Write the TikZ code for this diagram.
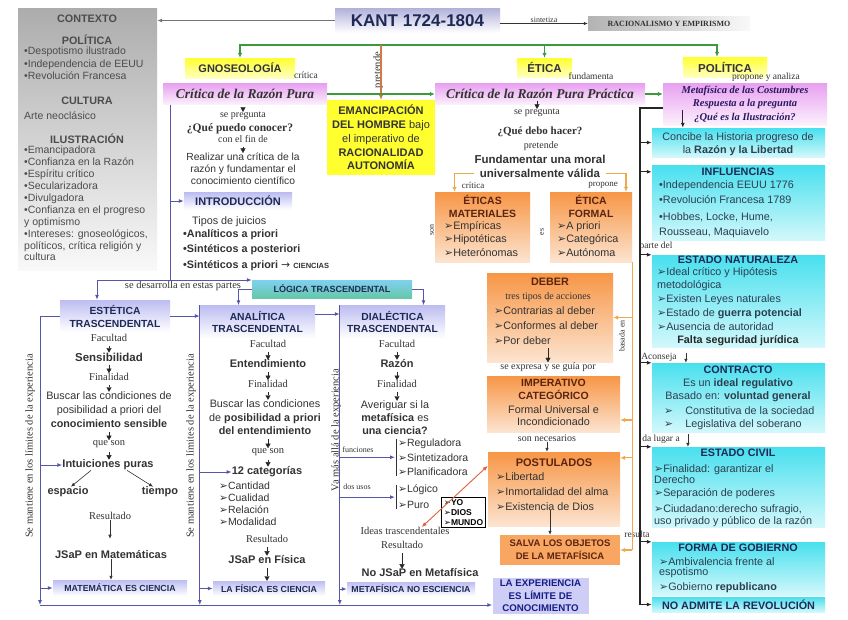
\documentclass[tikz,border=0pt]{standalone}
\usepackage{fontspec}
\setmainfont{Liberation Sans}
\newfontfamily\tnr{Liberation Serif}
\newfontfamily\djv{DejaVu Sans}
\usetikzlibrary{arrows.meta, positioning}
\definecolor{kline}{HTML}{5656A8}
\definecolor{kgreen}{HTML}{3C9A3C}
\definecolor{korange}{HTML}{F0A848}
\definecolor{kpret}{HTML}{D07848}
\definecolor{kred}{HTML}{E0603C}
\definecolor{kyellow}{HTML}{FFFF30}
\definecolor{kpink}{HTML}{E8A0F0}
\definecolor{klav}{HTML}{BDBDF2}
\definecolor{korg}{HTML}{F79646}
\definecolor{korgl}{HTML}{FCE4D0}
\definecolor{kcyan}{HTML}{48E0EE}
\definecolor{kcyanl}{HTML}{D2F8FB}
\definecolor{kteala}{HTML}{80D0F0}
\definecolor{ktealb}{HTML}{66C8A8}
\definecolor{kbrown}{HTML}{5A2410}
\definecolor{knavy}{HTML}{1E2A55}
\definecolor{kindigo}{HTML}{2A1860}
\definecolor{kslate}{HTML}{2C3E50}
\definecolor{ktext}{HTML}{333333}
\newcommand{\flecha}{{\djv\mdseries\char"27A2}}
\tikzset{
  ybox/.style={top color=kyellow, bottom color=kyellow!30, inner sep=0pt},
  pkbox/.style={top color=kpink, bottom color=kpink!15, inner sep=0pt},
  lvbox/.style={top color=klav, bottom color=white, inner sep=0pt},
  obox/.style={top color=korg, bottom color=korgl, inner sep=0pt},
  cbox/.style={top color=kcyan, bottom color=kcyanl, inner sep=0pt},
  gtxt/.style={inner sep=0pt, align=center, text=ktext, font=\fontsize{10.8}{12}\selectfont},
  btxt/.style={gtxt, font=\bfseries\fontsize{10.8}{12}\selectfont},
  ltxt/.style={gtxt, align=left, anchor=north west},
  stxt/.style={inner sep=0pt, text=ktext, font=\tnr\fontsize{10.5}{11}\selectfont},
  tlbl/.style={inner sep=0pt, text=ktext, font=\tnr\fontsize{8}{9}\selectfont},
  qtxt/.style={inner sep=0pt, text=ktext, font=\tnr\bfseries\fontsize{11}{12}\selectfont},
  otit/.style={btxt, text=kbrown},
  ctit/.style={btxt, text=knavy},
  bln/.style={kline, line width=1pt},
  barr/.style={bln, -{Latex[length=5pt,width=4pt]}},
  garr/.style={kgreen, line width=1.3pt, -{Latex[length=5pt,width=4.5pt]}},
  oarr/.style={korange, line width=1.2pt, -{Latex[length=5pt,width=4.5pt]}},
  rarr/.style={kred, line width=0.9pt, {Latex[length=5pt,width=4pt]}-{Latex[length=5pt,width=4pt]}},
  kln/.style={black!85, line width=1.1pt},
  karr/.style={kln, -{Latex[length=5pt,width=4pt]}},
  tarr/.style={black!80, line width=0.6pt, -{Latex[length=4pt,width=3.5pt]}},
  tri/.style={black!85, line width=0.4pt, shorten <=4pt, -{Triangle[length=4.5pt,width=5pt]}},
}
\begin{document}
\begin{tikzpicture}[x=1pt, y=-1pt]
\useasboundingbox (0,0) rectangle (848,619);
\fill[white] (0,0) rectangle (848,619);

% contexto
\node[top color=gray!65, bottom color=gray!5, inner sep=0pt, minimum width=139pt, minimum height=262pt] (ctx) at (87.5,139) {};
\node[btxt, text=black!70] (ctxt) at (87,19) {CONTEXTO};
\node[btxt, text=black!70] (cpol) at (87,40) {POLÍTICA};
\node[ltxt, text=black!70, font=\fontsize{10.5}{12.4}\selectfont] (cpoll) at (24,47) {•Despotismo ilustrado\\•Independencia de EEUU\\•Revolución Francesa};
\node[btxt, text=black!70] (ccul) at (87,101) {CULTURA};
\node[gtxt, text=black!70, anchor=west, font=\fontsize{10.5}{12}\selectfont] (cart) at (24,116) {Arte neoclásico};
\node[btxt, text=black!70] (cilu) at (87,139) {ILUSTRACIÓN};
\node[ltxt, text=black!70, font=\fontsize{10.5}{11.9}\selectfont] (cilul) at (24,146) {•Emancipadora\\•Confianza en la Razón\\•Espíritu crítico\\•Secularizadora\\•Divulgadora\\•Confianza en el progreso\\y optimismo\\•Intereses: gnoseológicos,\\políticos, crítica religión y\\cultura};

% kant
\node[top color=klav!80!gray, bottom color=white, inner sep=0pt, minimum width=165pt, minimum height=25pt, font=\bfseries\fontsize{17}{18}\selectfont, text=knavy] (kant) at (417.5,20.5) {KANT 1724-1804};
\node[left color=gray!60, right color=gray!5, inner sep=0pt, minimum width=162pt, minimum height=14pt, font=\tnr\bfseries\fontsize{8}{9}\selectfont, text=black!80] (raci) at (669,23.5) {RACIONALISMO Y EMPIRISMO};
\coordinate (bus) at (417,45);

% gnoseologia
\node[ybox, btxt, minimum width=110pt, minimum height=20pt, font=\bfseries\fontsize{11}{12}\selectfont] (gnos) at (240,68) {GNOSEOLOGÍA};
\node[tlbl, font=\tnr\fontsize{9.5}{10}\selectfont] (lcrit) at (306,75) {crítica};
\node[pkbox, minimum width=164pt, minimum height=21pt, font=\tnr\bfseries\itshape\fontsize{13.5}{14}\selectfont, text=ktext] (crp) at (245,94) {Crítica de la Razón Pura};
\node[fill=kyellow, btxt, minimum width=108pt, minimum height=75pt, font=\bfseries\fontsize{11}{13.8}\selectfont] (emanc) at (381,137.5) {EMANCIPACIÓN\\DEL HOMBRE {\mdseries bajo}\\{\mdseries el imperativo de}\\RACIONALIDAD\\AUTONOMÍA};
\node[stxt, rotate=90] (lpret) at (378,70) {pretende};
\node[stxt, font=\tnr\fontsize{10}{11}\selectfont] (sp1) at (243,116) {se pregunta};
\node[qtxt, font=\tnr\bfseries\fontsize{11.5}{12}\selectfont] (q1) at (240,129) {¿Qué puedo conocer?};
\node[stxt, font=\tnr\fontsize{10}{11}\selectfont] (cfin) at (243,139) {con el fin de};
\node[gtxt, font=\fontsize{10.3}{12}\selectfont] (real1) at (243,169) {Realizar una crítica de la\\razón y fundamentar el\\conocimiento científico};
\node[lvbox, ctit, minimum width=108pt, minimum height=17pt, font=\bfseries\fontsize{11}{12}\selectfont] (intro) at (238,201) {INTRODUCCIÓN};
\node[gtxt, anchor=west] (tipos) at (192,222) {Tipos de juicios};
\node[btxt, align=left, anchor=north west, font=\bfseries\fontsize{10.8}{15.5}\selectfont] (juic) at (183,229) {•Analíticos a priori\\•Sintéticos a posteriori\\•Sintéticos a priori {\mdseries\djv →} {\fontsize{7.5}{8}\selectfont CIENCIAS}};
\node[stxt] (ldes) at (183,285.5) {se desarrolla en estas partes};
\node[top color=kteala, bottom color=ktealb, inner sep=0pt, minimum width=160pt, minimum height=18pt, font=\bfseries\fontsize{9}{10}\selectfont, text=knavy] (logica) at (332,289) {LÓGICA TRASCENDENTAL};

% columnas trascendentales
\node[lvbox, ctit, minimum width=110pt, minimum height=32pt, font=\bfseries\fontsize{10.3}{13}\selectfont] (estet) at (115,316) {ESTÉTICA\\TRASCENDENTAL};
\node[lvbox, ctit, minimum width=115pt, minimum height=33pt, font=\bfseries\fontsize{10.3}{12}\selectfont] (anal) at (257.5,322) {ANALÍTICA\\TRASCENDENTAL};
\node[lvbox, ctit, minimum width=105pt, minimum height=33pt, font=\bfseries\fontsize{10.3}{12}\selectfont] (dial) at (392.5,322) {DIALÉCTICA\\TRASCENDENTAL};
\node[stxt, rotate=90] (lsm1) at (30,446) {Se mantiene en los límites de la experiencia};
\node[stxt, rotate=90] (lsm2) at (191,446) {Se mantiene en los límites de la experiencia};
\node[stxt, rotate=90] (lva) at (336,430) {Va más allá de la experiencia};

% estetica
\node[stxt] (fac1) at (109,338) {Facultad};
\node[btxt, font=\bfseries\fontsize{11.5}{12}\selectfont] (sens) at (109,357) {Sensibilidad};
\node[stxt] (fnl1) at (109,377) {Finalidad};
\node[gtxt, font=\fontsize{10.8}{14}\selectfont] (busc1) at (109,410) {Buscar las condiciones de\\posibilidad a priori del\\\textbf{conocimiento sensible}};
\node[stxt] (qs1) at (109,444) {que son};
\node[btxt, font=\bfseries\fontsize{11}{12}\selectfont] (intu) at (108,465) {Intuiciones puras};
\node[btxt, font=\bfseries\fontsize{11}{12}\selectfont] (esp) at (68,492) {espacio};
\node[btxt, font=\bfseries\fontsize{11}{12}\selectfont] (tie) at (160,492) {tiempo};
\node[stxt] (res1) at (110,516) {Resultado};
\node[btxt, font=\bfseries\fontsize{11}{12}\selectfont] (jsap1) at (111,555) {JSaP en Matemáticas};
\node[lvbox, ctit, minimum width=134pt, minimum height=16pt, font=\bfseries\fontsize{8.8}{9}\selectfont] (mate) at (120,588) {MATEMÁTICA ES CIENCIA};

% analitica
\node[stxt] (fac2) at (268,344) {Facultad};
\node[btxt, font=\bfseries\fontsize{11}{12}\selectfont] (ent) at (268,364) {Entendimiento};
\node[stxt] (fnl2) at (268,384) {Finalidad};
\node[gtxt, font=\fontsize{10.8}{13.5}\selectfont] (busc2) at (265,417.5) {Buscar las condiciones\\de \textbf{posibilidad a priori}\\\textbf{del entendimiento}};
\node[stxt] (qs2) at (268,452) {que son};
\node[btxt, font=\bfseries\fontsize{11}{12}\selectfont] (cat) at (267,472) {12 categorías};
\node[ltxt, font=\fontsize{10.5}{11.8}\selectfont] (catl) at (219,482) {\flecha Cantidad\\\flecha Cualidad\\\flecha Relación\\\flecha Modalidad};
\node[stxt] (res2) at (267,539) {Resultado};
\node[btxt, font=\bfseries\fontsize{11}{12}\selectfont] (jsap2) at (267,560) {JSaP en Física};
\node[lvbox, ctit, minimum width=112pt, minimum height=15pt, font=\bfseries\fontsize{8.8}{9}\selectfont] (fisica) at (269,588.5) {LA FÍSICA ES CIENCIA};

% dialectica
\node[stxt] (fac3) at (397,344) {Facultad};
\node[btxt, font=\bfseries\fontsize{11}{12}\selectfont] (razon) at (397,364) {Razón};
\node[stxt] (fnl3) at (397,384) {Finalidad};
\node[gtxt, font=\fontsize{10.8}{13}\selectfont] (aver) at (395,418) {Averiguar si la\\\textbf{metafísica} es\\\textbf{una ciencia?}};
\node[tlbl] (lfun) at (358,450) {funciones};
\node[ltxt, font=\fontsize{10.5}{14.2}\selectfont] (fun) at (398,439) {\flecha Reguladora\\\flecha Sintetizadora\\\flecha Planificadora};
\node[tlbl] (luso) at (357,487) {dos usos};
\node[ltxt, font=\fontsize{10.5}{16}\selectfont] (uso) at (398,485) {\flecha Lógico\\\flecha Puro};
\node[draw=black, line width=0.8pt, fill=white, inner sep=2pt, align=left, text=black, font=\bfseries\fontsize{8.5}{10}\selectfont] (ydm) at (463.5,512.5) {\flecha YO\\\flecha DIOS\\\flecha MUNDO};
\node[stxt] (ideas) at (405,531) {Ideas trascendentales};
\node[stxt] (res3) at (402,545) {Resultado};
\node[btxt, font=\bfseries\fontsize{11}{12}\selectfont] (nojsap) at (420,573) {No JSaP en Metafísica};
\node[lvbox, ctit, minimum width=128pt, minimum height=14pt, font=\bfseries\fontsize{8.8}{9}\selectfont] (metaf) at (411,589) {METAFÍSICA NO ESCIENCIA};
\node[fill=klav!75, ctit, minimum width=96pt, minimum height=36pt, font=\bfseries\fontsize{9.7}{12.5}\selectfont, text=knavy!70!blue] (exper) at (540.5,596) {LA EXPERIENCIA\\ES LÍMITE DE\\CONOCIMIENTO};

% etica
\node[ybox, btxt, minimum width=55pt, minimum height=19pt, font=\bfseries\fontsize{11.5}{12}\selectfont] (etica) at (544.5,67.5) {ÉTICA};
\node[tlbl, font=\tnr\fontsize{9.5}{10}\selectfont] (lfund) at (591,76) {fundamenta};
\node[pkbox, minimum width=210pt, minimum height=21pt, font=\tnr\bfseries\itshape\fontsize{13.5}{14}\selectfont, text=ktext] (crpp) at (540,94) {Crítica de la Razón Pura Práctica};
\node[stxt, font=\tnr\fontsize{10}{11}\selectfont] (sp2) at (537,113) {se pregunta};
\node[qtxt] (q2) at (540,132) {¿Qué debo hacer?};
\node[stxt, font=\tnr\fontsize{10}{11}\selectfont] (pret2) at (541,146) {pretende};
\node[btxt, font=\bfseries\fontsize{11.5}{14}\selectfont] (fund) at (540,166) {Fundamentar una moral\\universalmente válida};
\node[tlbl, font=\tnr\fontsize{9}{10}\selectfont] (lcri2) at (473,185) {crítica};
\node[tlbl, font=\tnr\fontsize{9}{10}\selectfont] (lprop) at (603,185) {propone};
\node[obox, minimum width=95pt, minimum height=70pt] (emat) at (482.5,227) {};
\node[otit, font=\bfseries\fontsize{10.5}{12.5}\selectfont] (ematt) at (482.5,206.5) {ÉTICAS\\MATERIALES};
\node[ltxt, font=\fontsize{10.8}{13.5}\selectfont] (ematl) at (444,221) {\flecha Empíricas\\\flecha Hipotéticas\\\flecha Heterónomas};
\node[tlbl, rotate=90] (lson) at (432,230) {son};
\node[tlbl, rotate=90] (les) at (542,232) {es};
\node[obox, minimum width=82pt, minimum height=70pt] (eform) at (591,227) {};
\node[otit, font=\bfseries\fontsize{10.5}{12.5}\selectfont] (eformt) at (591,206.5) {ÉTICA\\FORMAL};
\node[ltxt, font=\fontsize{10.8}{13.5}\selectfont] (eforml) at (557,221) {\flecha A priori\\\flecha Categórica\\\flecha Autónoma};
\node[obox, minimum width=126pt, minimum height=89pt] (deber) at (550,317.5) {};
\node[otit] (debert) at (550,282) {DEBER};
\node[stxt, font=\tnr\fontsize{10}{11}\selectfont] (ltres) at (548,297) {tres tipos de acciones};
\node[ltxt, font=\fontsize{10.8}{15}\selectfont] (deberl) at (494,306) {\flecha Contrarias al deber\\\flecha Conformes al deber\\\flecha Por deber};
\node[stxt, font=\tnr\fontsize{10}{11}\selectfont] (sexp) at (548,367) {se expresa y se guía por};
\node[obox, minimum width=133pt, minimum height=56pt] (imper) at (553.5,404) {};
\node[otit, font=\bfseries\fontsize{10.5}{12.5}\selectfont] (impert) at (553.5,389.5) {IMPERATIVO\\CATEGÓRICO};
\node[gtxt, font=\fontsize{10.8}{12.5}\selectfont] (imperl) at (553.5,415.5) {Formal Universal e\\Incondicionado};
\node[stxt, font=\tnr\fontsize{10}{11}\selectfont] (sonnec) at (547,438) {son necesarios};
\node[obox, minimum width=132pt, minimum height=74pt] (postu) at (554,489) {};
\node[otit, font=\bfseries\fontsize{11}{12}\selectfont] (postut) at (554,463) {POSTULADOS};
\node[ltxt, font=\fontsize{10.8}{15}\selectfont] (postl) at (496,472) {\flecha Libertad\\\flecha Inmortalidad del alma\\\flecha Existencia de Dios};
\node[fill=korg!85, otit, minimum width=120pt, minimum height=30pt, font=\bfseries\fontsize{9.5}{13}\selectfont] (salva) at (560,550) {SALVA LOS OBJETOS\\DE LA METAFÍSICA};
\node[tlbl, rotate=90] (lbas) at (622,336) {basada en};

% politica
\node[ybox, btxt, minimum width=84pt, minimum height=20pt, font=\bfseries\fontsize{11.5}{12}\selectfont] (polit) at (725,67) {POLÍTICA};
\node[tlbl, font=\tnr\fontsize{9.5}{10}\selectfont] (lpya) at (766,77) {propone y analiza};
\node[pkbox, minimum width=164pt, minimum height=42pt, align=center, font=\tnr\bfseries\itshape\fontsize{10.5}{13.5}\selectfont, text=kindigo] (meta) at (745,104) {Metafísica de las Costumbres\\Respuesta a la pregunta\\¿Qué es la Ilustración?};
\node[cbox, minimum width=173pt, minimum height=29pt] (conci) at (738.5,142.5) {};
\node[gtxt, text=kslate, font=\fontsize{10.8}{13}\selectfont] (concit) at (738,144.5) {Concibe la Historia progreso de\\la \textbf{Razón y la Libertad}};
\node[cbox, minimum width=173pt, minimum height=75pt] (influ) at (738.5,202.5) {};
\node[ctit] (influt) at (738,172) {INFLUENCIAS};
\node[ltxt, text=kslate, font=\fontsize{10.8}{15}\selectfont] (influl) at (659,180) {•Independencia EEUU 1776\\•Revolución Francesa 1789\\[2pt]•Hobbes, Locke, Hume,\\Rousseau, Maquiavelo};
\node[tlbl, font=\tnr\fontsize{9.5}{10}\selectfont] (lparte) at (656,246) {parte del};
\node[cbox, minimum width=173pt, minimum height=92pt] (enat) at (738.5,301) {};
\node[ctit] (enatt) at (738,260) {ESTADO NATURALEZA};
\node[ltxt, text=kslate, font=\fontsize{10.8}{13.8}\selectfont] (enatl) at (657,267) {\flecha Ideal crítico y Hipótesis\\metodológica\\\flecha Existen Leyes naturales\\\flecha Estado de \textbf{guerra potencial}\\\flecha Ausencia de autoridad};
\node[btxt, text=black!85] (falta) at (738,341) {Falta seguridad jurídica};
\node[tlbl, font=\tnr\fontsize{9.5}{10}\selectfont] (lacon) at (659,357) {Aconseja};
\node[cbox, minimum width=173pt, minimum height=69pt] (contr) at (738.5,397.5) {};
\node[ctit] (contrt) at (738,370) {CONTRACTO};
\node[gtxt, text=kslate] (contr1) at (738,384) {Es un \textbf{ideal regulativo}};
\node[gtxt, text=kslate] (contr2) at (738,397) {Basado en: \textbf{voluntad general}};
\node[gtxt, text=kslate, anchor=west] (contr3) at (664,411) {\flecha\hspace{12pt}Constitutiva de la sociedad};
\node[gtxt, text=kslate, anchor=west] (contr4) at (664,425) {\flecha\hspace{12pt}Legislativa del soberano};
\node[tlbl, font=\tnr\fontsize{9.5}{10}\selectfont] (lda) at (661,439) {da lugar a};
\node[cbox, minimum width=173pt, minimum height=80pt] (ecivil) at (738.5,487) {};
\node[ctit] (ecivilt) at (738,453) {ESTADO CIVIL};
\node[ltxt, text=kslate, font=\fontsize{10.8}{9.8}\selectfont] (ecivill) at (654,464) {\flecha Finalidad: garantizar el\\Derecho\\[4pt]\flecha Separación de poderes\\[5pt]\flecha Ciudadano:derecho sufragio,\\uso privado y público de la razón};
\node[tlbl, font=\tnr\fontsize{9.5}{10}\selectfont] (lres) at (637,534) {resulta};
\node[cbox, minimum width=173pt, minimum height=53pt] (fgob) at (738.5,568.5) {};
\node[ctit] (fgobt) at (738,548) {FORMA DE GOBIERNO};
\node[ltxt, text=kslate, font=\fontsize{10.8}{10}\selectfont] (fgobl) at (659,557) {\flecha Ambivalencia frente al\\espotismo\\[4pt]\flecha Gobierno \textbf{republicano}};
\node[cbox, ctit, minimum width=173pt, minimum height=15pt] (noadm) at (738.5,604.5) {NO ADMITE LA REVOLUCIÓN};

% conectores principales
\draw[karr, black!55] (kant.west) -- (kant.west -| ctx.east);
\draw[tarr] (kant.east |- raci.west) -- (raci.west) node[midway, above=1pt, tlbl] (lsint) {sintetiza};
\draw[garr] (bus) -| (gnos.north);
\draw[garr] (bus) -| ([xshift=-8pt]polit.north);
\draw[garr] (bus -| etica.north) -- (etica.north);
\draw[kpret, line width=1.8pt, -{Latex[length=5pt,width=4.5pt]}] (bus -| emanc.north) -- (emanc.north);
\draw[garr] (crp.east) -- (crp.east -| crpp.west);
\draw[garr] (crpp.east) -- (crpp.east -| meta.west);

% gnoseologia
\coordinate (lft) at (170,280);
\draw[tri] (crp.south -| sp1) -- (sp1.north);
\draw[tri] (cfin.south) -- (real1.north);
\draw[bln] (crp.south -| lft) -- (lft);
\draw[barr] (intro.west -| lft) -- (intro.west);
\draw[barr] (lft) -- (lft -| logica.west);
\draw[barr] (lft) -| ([xshift=-18pt]estet.north);
\draw[barr] (logica.west) -| ([xshift=-19pt]anal.north);
\draw[barr] (logica.east) -| ([xshift=31pt]dial.north);
\draw[barr] (estet.east) -- (estet.east -| anal.west);
\coordinate (ae) at ([yshift=8pt]anal.east);
\draw[barr] (ae) -- (ae -| dial.west);
\coordinate (bot) at (40,605);
\draw[barr] (estet.west) -| (bot);
\draw[barr] (anal.north west) -- (anal.north west |- bot);
\draw[barr] (dial.north west) -- (dial.north west |- bot);
\draw[barr] (bot) -- (bot -| exper.west);

% estetica
\draw[tri] (fac1.south) -- (sens.north);
\draw[tri] (sens.south) -- (fnl1.north);
\draw[tri] (fnl1.south) -- (busc1.north);
\draw[tri] (busc1.south) -- (qs1.north);
\draw[tri] (qs1.south) -- (qs1.south |- intu.north);
\draw[tarr] ([xshift=-17pt]intu.south) -- ([xshift=3pt]esp.north);
\draw[tarr] ([xshift=19pt]intu.south) -- ([xshift=-7pt]tie.north);
\draw[tarr, shorten >=12pt] (res1.south) -- (res1.south |- jsap1.north);
\draw[tarr] (jsap1.south) -- (jsap1.south |- mate.north);
\draw[barr] (intu.west -| bot) -- (intu.west);
\draw[barr] (mate.west -| bot) -- (mate.west);

% analitica
\draw[tri] (fac2.south) -- (ent.north);
\draw[tri] (ent.south) -- (fnl2.north);
\draw[tri] (fnl2.south) -- (fnl2.south |- busc2.north);
\draw[tri] (busc2.south -| qs2) -- (qs2.north);
\draw[tri] (qs2.south) -- (qs2.south |- cat.north);
\draw[tri] (res2.south) -- (jsap2.north);
\draw[tri] (jsap2.south) -- (jsap2.south |- fisica.north);
\draw[barr] (cat.west -| anal.west) -- (cat.west);
\draw[barr] (fisica.west -| anal.west) -- (fisica.west);

% dialectica
\draw[tri] (fac3.south) -- (razon.north);
\draw[tri] (razon.south) -- (fnl3.north);
\draw[tri] (fnl3.south) -- (fnl3.south |- aver.north);
\draw[tri] (res3.south) -- (res3.south |- nojsap.north);
\draw[black!80, line width=0.6pt] ([xshift=-1.5pt]fun.north west) -- ([xshift=-1.5pt]fun.south west);
\draw[black!80, line width=0.6pt] ([xshift=-1.5pt]uso.north west) -- ([xshift=-1.5pt]uso.south west);
\draw[barr] (fun.west -| dial.west) -- ([xshift=-3pt]fun.west);
\draw[barr] (uso.west -| dial.west) -- ([xshift=-3pt]uso.west);
\draw[barr] (metaf.west -| dial.west) -- (metaf.west);
\coordinate (pw) at ([yshift=-14pt]postu.north west);
\coordinate (iw) at ([xshift=-28pt]ideas.north east);
\draw[rarr] (iw) -- (pw);

% etica
\draw[tri] (crpp.south -| sp2) -- (sp2.north);
\coordinate (fl) at ([yshift=4pt]fund.south west);
\coordinate (fr) at ([yshift=4pt]fund.south east);
\draw[oarr] (fl) -| ([xshift=-28pt]emat.north);
\draw[oarr] (fr) -| ([xshift=35pt]eform.north);
\draw[tri] (deberl.south -| sexp) -- (sexp.north);
\draw[tarr] (sonnec.south) -- (sonnec.south |- postu.north);
\coordinate (sa) at ([xshift=-10pt]salva.north);
\draw[tarr] (sa |- postl.south) -- (sa);
\draw[korange, line width=1.2pt] (eform.south east) -- (eform.south east |- salva.east);
\draw[oarr] (deber.east -| eform.east) -- (deber.east);
\coordinate (ie) at ([yshift=-16pt]imper.east);
\draw[oarr] (ie -| eform.east) -- (ie);
\coordinate (pe) at ([yshift=-6pt]postu.north east);
\draw[oarr] (pe -| eform.east) -- (pe);
\draw[oarr] (salva.east -| eform.east) -- (salva.east);

% politica
\coordinate (ktop) at (640,108);
\coordinate (kbot) at (640,604.5);
\draw[kln] (ktop -| meta.west) -- (ktop) -- (kbot);
\path (ktop -| meta.west) ++(20,2) coordinate (mk);
\draw[karr] (mk) -- (mk |- conci.north);
\draw[karr] (conci.west -| ktop) -- (conci.west);
\path (influ.north west) ++(0,7) coordinate (pi);
\draw[karr] (pi -| ktop) -- (pi);
\draw[karr] (enat.north west -| ktop) -- (enat.north west);
\draw[karr] (contr.north west -| ktop) -- (contr.north west);
\draw[karr] (ecivil.north west -| ktop) -- (ecivil.north west);
\draw[karr] (fgob.north west -| ktop) -- (fgob.north west);
\draw[karr] (kbot) -- (kbot -| noadm.west);
\coordinate (ak) at ([xshift=9pt]lacon.north east);
\draw[tarr] (ak) -- (ak |- contr.north);
\coordinate (dk) at ([xshift=8pt]lda.north east);
\draw[tarr] (dk) -- (dk |- ecivil.north);
\end{tikzpicture}
\end{document}
